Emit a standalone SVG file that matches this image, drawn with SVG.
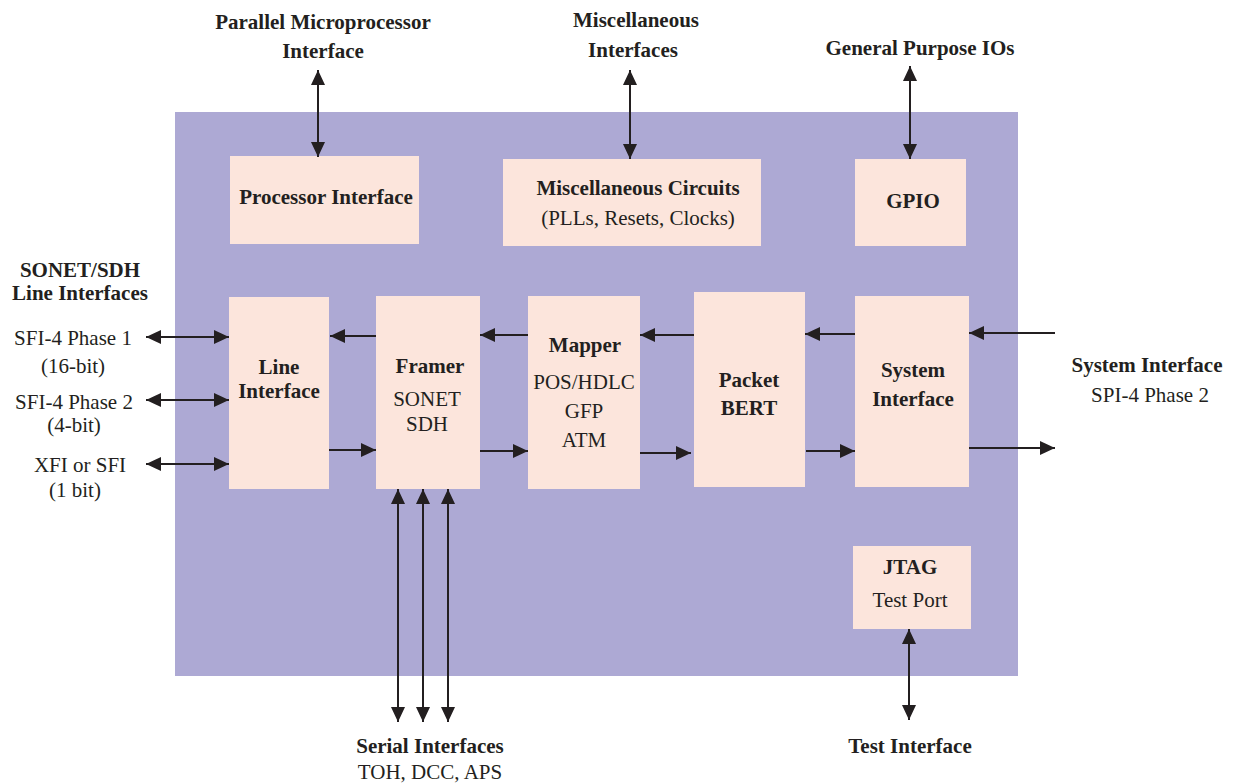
<svg xmlns="http://www.w3.org/2000/svg" width="1235" height="783" viewBox="0 0 1235 783">
<style>
.node{fill:#FCE5DC}
.bg{fill:#ADA9D4}
text{font-family:"Liberation Serif","Times New Roman",serif;fill:#231F20;font-size:21px;text-anchor:middle}
.b{font-weight:bold}
.c line{stroke:#231F20;stroke-width:2;fill:none}
.a{marker-end:url(#ah)}
.d{marker-start:url(#ah);marker-end:url(#ah)}
</style>
<defs>
<marker id="ah" markerUnits="userSpaceOnUse" markerWidth="15" markerHeight="14" refX="15" refY="7" orient="auto-start-reverse">
<path d="M0,0 L15,7 L0,14 z" fill="#231F20"/>
</marker>
</defs>
<rect width="1235" height="783" fill="#fff"/>
<rect class="bg" x="175" y="112" width="843" height="564"/>

<g id="processor-interface"><rect class="node" x="230" y="156" width="189" height="88"/><text class="b" x="326" y="204">Processor Interface</text></g>
<g id="misc-circuits"><rect class="node" x="503" y="159" width="258" height="87"/><text class="b" x="638" y="195">Miscellaneous Circuits</text><text x="638" y="225">(PLLs, Resets, Clocks)</text></g>
<g id="gpio"><rect class="node" x="855" y="159" width="111" height="87"/><text class="b" x="913" y="208">GPIO</text></g>
<g id="line-interface"><rect class="node" x="229" y="297" width="100" height="192"/><text class="b" x="279" y="374">Line</text><text class="b" x="279" y="398">Interface</text></g>
<g id="framer"><rect class="node" x="376" y="296" width="104" height="193"/><text class="b" x="430" y="373">Framer</text><text x="427" y="406">SONET</text><text x="427" y="431">SDH</text></g>
<g id="mapper"><rect class="node" x="528" y="296" width="112" height="193"/><text class="b" x="585" y="352">Mapper</text><text x="584" y="389">POS/HDLC</text><text x="584" y="418">GFP</text><text x="584" y="447">ATM</text></g>
<g id="packet-bert"><rect class="node" x="694" y="292" width="111" height="195"/><text class="b" x="749" y="387">Packet</text><text class="b" x="749" y="415">BERT</text></g>
<g id="system-interface"><rect class="node" x="855" y="296" width="114" height="191"/><text class="b" x="913" y="377">System</text><text class="b" x="913" y="406">Interface</text></g>
<g id="jtag"><rect class="node" x="853" y="546" width="118" height="83"/><text class="b" x="910" y="574">JTAG</text><text x="910" y="607">Test Port</text></g>

<g id="labels">
<text class="b" x="323" y="29">Parallel Microprocessor</text>
<text class="b" x="323" y="58">Interface</text>
<text class="b" x="636" y="27">Miscellaneous</text>
<text class="b" x="633" y="57">Interfaces</text>
<text class="b" x="920" y="55">General Purpose IOs</text>
<text class="b" x="80" y="277">SONET/SDH</text>
<text class="b" x="80" y="300">Line Interfaces</text>
<text x="73" y="345">SFI-4 Phase 1</text>
<text x="73" y="373">(16-bit)</text>
<text x="74" y="409">SFI-4 Phase 2</text>
<text x="74" y="432">(4-bit)</text>
<text x="80" y="472">XFI or SFI</text>
<text x="75" y="497">(1 bit)</text>
<text class="b" x="1147" y="372">System Interface</text>
<text x="1150" y="402">SPI-4 Phase 2</text>
<text class="b" x="430" y="753">Serial Interfaces</text>
<text x="430" y="779">TOH, DCC, APS</text>
<text class="b" x="910" y="753">Test Interface</text>
</g>

<g id="connectors" class="c">
<line class="d" x1="318" y1="70" x2="318" y2="157"/>
<line class="d" x1="630" y1="70" x2="630" y2="159"/>
<line class="d" x1="910" y1="66" x2="910" y2="159"/>
<line class="d" x1="146" y1="337" x2="229" y2="337"/>
<line class="d" x1="146" y1="400" x2="229" y2="400"/>
<line class="d" x1="146" y1="464" x2="229" y2="464"/>
<line class="a" x1="376" y1="336" x2="330" y2="336"/>
<line class="a" x1="329" y1="450" x2="376" y2="450"/>
<line class="a" x1="528" y1="335" x2="480" y2="335"/>
<line class="a" x1="480" y1="451" x2="528" y2="451"/>
<line class="a" x1="694" y1="335" x2="640" y2="335"/>
<line class="a" x1="640" y1="453" x2="691" y2="453"/>
<line class="a" x1="855" y1="334" x2="805" y2="334"/>
<line class="a" x1="806" y1="451" x2="855" y2="451"/>
<line class="a" x1="1055" y1="333" x2="969" y2="333"/>
<line class="a" x1="969" y1="448" x2="1055" y2="448"/>
<line class="d" x1="398" y1="489" x2="398" y2="722"/>
<line class="d" x1="423" y1="489" x2="423" y2="722"/>
<line class="d" x1="448" y1="489" x2="448" y2="722"/>
<line class="d" x1="909" y1="629" x2="909" y2="720"/>
</g>
</svg>
